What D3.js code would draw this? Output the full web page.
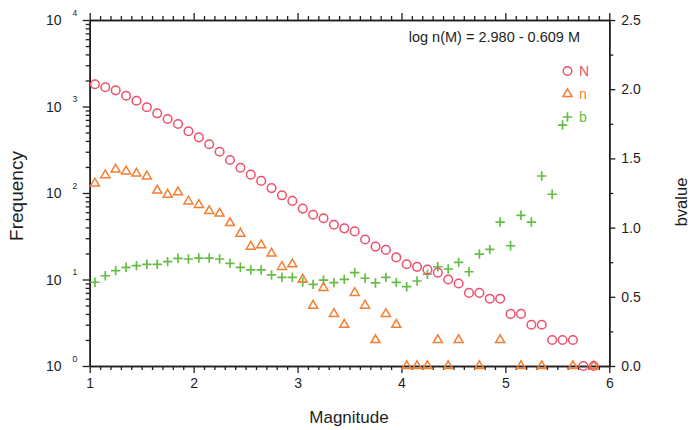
<!DOCTYPE html>
<html>
<head>
<meta charset="utf-8">
<script src="https://cdn.jsdelivr.net/npm/d3@7/dist/d3.min.js"></script>
<style>
  html, body { margin: 0; padding: 0; background: #fff; }
  svg { display: block; font-family: "Liberation Sans", Arial, Helvetica, sans-serif; }
</style>
</head>
<body>
<svg id="chart" width="692" height="430"></svg>
<script>
// Magnitude bin centres
const magnitudes = [1.05, 1.15, 1.25, 1.35, 1.45, 1.55, 1.65, 1.75, 1.85, 1.95,
  2.05, 2.15, 2.25, 2.35, 2.45, 2.55, 2.65, 2.75, 2.85, 2.95,
  3.05, 3.15, 3.25, 3.35, 3.45, 3.55, 3.65, 3.75, 3.85, 3.95,
  4.05, 4.15, 4.25, 4.35, 4.45, 4.55, 4.65, 4.75, 4.85, 4.95,
  5.05, 5.15, 5.25, 5.35, 5.45, 5.55, 5.65, 5.75, 5.85];

// Cumulative number of events N(M)
const cumulativeN = [1806, 1667, 1538, 1333, 1167, 979, 834, 717, 628, 517,
  440, 366, 300, 241, 196, 163, 138, 114, 94, 81,
  66, 56, 51, 43, 39, 36, 29, 24, 22, 18,
  15, 14, 13, 12, 10, 9, 7, 7, 6, 6,
  4, 4, 3, 3, 2, 2, 2, 1, 1];

// Non-cumulative number of events n(M); null = empty bin
const binCount = [129, 161, 187, 178, 168, 156, 107, 96, 102, 80,
  73, 62, 58, 45, 34, 24, 25, 20, 14, 15,
  10, 5, 8, 4, 3, 7, 5, 2, 4, 3,
  1, 1, 1, 2, 1, 2, null, 1, null, 2,
  null, 1, null, 1, null, null, 1, null, 1];

// b-value estimated above each magnitude
const bValue = [0.605, 0.652, 0.689, 0.713, 0.725, 0.735, 0.735, 0.754, 0.778, 0.773,
  0.780, 0.780, 0.773, 0.742, 0.713, 0.694, 0.694, 0.658, 0.641, 0.641,
  0.607, 0.590, 0.621, 0.602, 0.626, 0.675, 0.634, 0.600, 0.640, 0.604,
  0.573, 0.614, 0.663, 0.717, 0.701, 0.749, 0.681, 0.809, 0.843, 1.040,
  0.869, 1.089, 1.040, 1.373, 1.241, 1.741, null, null, null];

const xTicks = [1, 2, 3, 4, 5, 6];
const freqExponents = [0, 1, 2, 3, 4];
const bTicks = [0, 0.5, 1.0, 1.5, 2.0, 2.5];
const fitLabel = "log n(M) = 2.980 - 0.609 M";
const legendItems = [
  { key: "N", shape: "circle" },
  { key: "n", shape: "triangle" },
  { key: "b", shape: "plus" }
];

const colors = { N: "#ef4f6c", n: "#f47f33", b: "#66bd45" };
const ink = "#1e1e1e";

const svg = d3.select("#chart");
const plotLeft = 89.7, plotRight = 609.3, plotTop = 20, plotBottom = 366;

const x = d3.scaleLinear().domain([1, 6]).range([plotLeft, plotRight]);
const yF = d3.scaleLog().domain([1, 1e4]).range([plotBottom, plotTop]);
const yB = d3.scaleLinear().domain([0, 2.5]).range([plotBottom, plotTop]);

// minor tick positions
const xMinor = d3.range(10, 61).map(v => v / 10).filter(v => !xTicks.includes(v));
const fMinor = [];
for (let e = 0; e < 4; e++) for (let k = 2; k <= 9; k++) fMinor.push(k * Math.pow(10, e));
const bMinor = [0.25, 0.75, 1.25, 1.75, 2.25];

function styleAxis(g) {
  g.selectAll("path, line").attr("stroke", ink).attr("stroke-width", 1.3);
  g.selectAll("text").attr("fill", ink).style("font-size", "14px")
    .style("font-family", "'Liberation Sans', Arial, sans-serif");
  g.select(".domain").attr("stroke-width", 1.5);
}

// bottom axis
svg.append("g").attr("transform", `translate(0,${plotBottom})`)
  .call(d3.axisBottom(x).tickValues(xMinor).tickSize(4).tickFormat("").tickSizeOuter(0))
  .call(styleAxis);
svg.append("g").attr("transform", `translate(0,${plotBottom})`)
  .call(d3.axisBottom(x).tickValues(xTicks).tickSize(7).tickPadding(5).tickFormat(d3.format("d")).tickSizeOuter(0))
  .call(styleAxis);

// top axis
svg.append("g").attr("transform", `translate(0,${plotTop})`)
  .call(d3.axisTop(x).tickValues(xMinor).tickSize(4).tickFormat("").tickSizeOuter(0))
  .call(styleAxis);
svg.append("g").attr("transform", `translate(0,${plotTop})`)
  .call(d3.axisTop(x).tickValues(xTicks).tickSize(7).tickFormat("").tickSizeOuter(0))
  .call(styleAxis);

// left log axis
svg.append("g").attr("transform", `translate(${plotLeft},0)`)
  .call(d3.axisLeft(yF).tickValues(fMinor).tickSize(4).tickFormat("").tickSizeOuter(0))
  .call(styleAxis);
svg.append("g").attr("transform", `translate(${plotLeft},0)`)
  .call(d3.axisLeft(yF).tickValues(freqExponents.map(e => Math.pow(10, e))).tickSize(7).tickFormat("").tickSizeOuter(0))
  .call(styleAxis);

// power-of-ten labels
const powLabels = svg.append("g").attr("fill", ink);
freqExponents.forEach(e => {
  const yy = yF(Math.pow(10, e));
  powLabels.append("text").attr("x", 61.5).attr("y", yy + 5)
    .attr("text-anchor", "end").style("font-size", "14px").text("10");
  powLabels.append("text").attr("x", 72.5).attr("y", yy - 4.5)
    .style("font-size", "8.5px").text(String(e));
});

// right b-value axis
svg.append("g").attr("transform", `translate(${plotRight},0)`)
  .call(d3.axisRight(yB).tickValues(bMinor).tickSize(4).tickFormat("").tickSizeOuter(0))
  .call(styleAxis);
svg.append("g").attr("transform", `translate(${plotRight},0)`)
  .call(d3.axisRight(yB).tickValues(bTicks).tickSize(6).tickPadding(6).tickFormat(d3.format(".1f")).tickSizeOuter(0))
  .call(styleAxis);

// axis titles
svg.append("text").attr("x", 349).attr("y", 423).attr("text-anchor", "middle")
  .attr("fill", ink).style("font-size", "17px").text("Magnitude");
svg.append("text").attr("transform", `translate(23,196) rotate(-90)`).attr("text-anchor", "middle")
  .attr("fill", ink).style("font-size", "19px").text("Frequency");
svg.append("text").attr("transform", `translate(687,202) rotate(-90)`).attr("text-anchor", "middle")
  .attr("fill", ink).style("font-size", "16.5px").text("bvalue");

// marker shapes
const triSide = 9;
function trianglePath(cx, cy) {
  const h = triSide * Math.sqrt(3) / 2;
  return `M${cx},${cy - 2 * h / 3}L${cx + triSide / 2},${cy + h / 3}L${cx - triSide / 2},${cy + h / 3}Z`;
}
function plusPath(cx, cy) {
  const a = 4.7;
  return `M${cx - a},${cy}H${cx + a}M${cx},${cy - a}V${cy + a}`;
}

const rows = magnitudes.map((m, i) => ({ m, N: cumulativeN[i], n: binCount[i], b: bValue[i] }));

// b-value crosses
svg.append("g").selectAll("path").data(rows.filter(d => d.b != null)).join("path")
  .attr("d", d => plusPath(x(d.m), yB(d.b)))
  .attr("stroke", colors.b).attr("stroke-width", 1.7).attr("fill", "none");

// n triangles
svg.append("g").selectAll("path").data(rows.filter(d => d.n != null)).join("path")
  .attr("d", d => trianglePath(x(d.m), yF(d.n)))
  .attr("stroke", colors.n).attr("stroke-width", 1.5).attr("fill", "none")
  .attr("stroke-linejoin", "miter");

// N circles
svg.append("g").selectAll("circle").data(rows).join("circle")
  .attr("cx", d => x(d.m)).attr("cy", d => yF(d.N)).attr("r", 4.3)
  .attr("stroke", colors.N).attr("stroke-width", 1.5).attr("fill", "none");

// fit annotation
svg.append("text").attr("x", 580).attr("y", 42).attr("text-anchor", "end")
  .attr("fill", ink).style("font-size", "14.5px").text(fitLabel);

// legend
const legend = svg.append("g");
legendItems.forEach((item, i) => {
  const cy = 71 + i * 23, cx = 567.5;
  const col = colors[item.key];
  if (item.shape === "circle") {
    legend.append("circle").attr("cx", cx).attr("cy", cy).attr("r", 4.3)
      .attr("stroke", col).attr("stroke-width", 1.5).attr("fill", "none");
  } else if (item.shape === "triangle") {
    legend.append("path").attr("d", trianglePath(cx, cy)).attr("stroke", col)
      .attr("stroke-width", 1.5).attr("fill", "none");
  } else {
    legend.append("path").attr("d", plusPath(cx, cy)).attr("stroke", col)
      .attr("stroke-width", 1.7).attr("fill", "none");
  }
  legend.append("text").attr("x", 579).attr("y", cy + 5).attr("fill", col)
    .style("font-size", "14px").text(item.key);
});
</script>
</body>
</html>
